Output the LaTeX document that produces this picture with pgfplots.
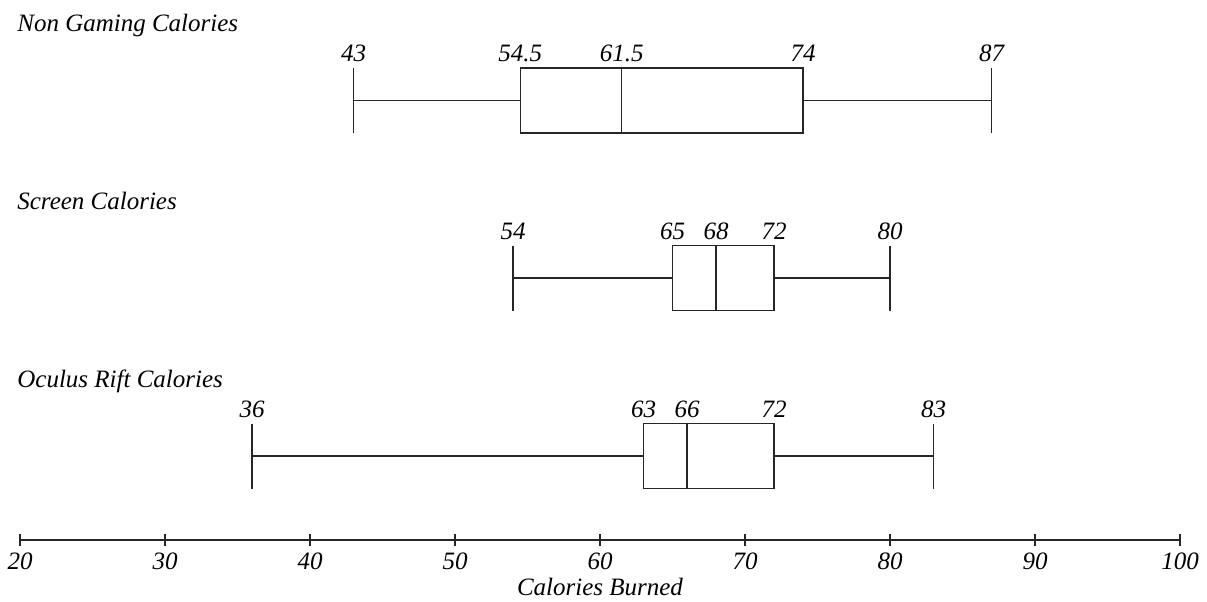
\documentclass[border=0pt]{standalone}
\usepackage{fontspec}
\setmainfont{Liberation Serif}
\usepackage{pgfplots}
\pgfplotsset{compat=1.18}
\usepgfplotslibrary{statistics}
\begin{document}
\fontsize{12.5}{15}\selectfont
\begin{tikzpicture}
\begin{axis}[
  width=580pt, height=270pt, scale only axis,
  xmin=20, xmax=100, ymin=0, ymax=540, y dir=reverse,
  enlargelimits=false, clip=false,
  axis x line=bottom, axis y line=none,
  x axis line style={-, line width=0.6pt, black!85},
  xtick={20,30,...,100},
  tick align=center, major tick length=6pt,
  tick style={line width=0.6pt, black!85},
  xticklabel style={font=\itshape, /pgf/number format/assume math mode=true, yshift=1pt},
  xlabel={\itshape Calories Burned},
  xlabel style={yshift=4.5pt},
  boxplot/draw direction=x,
]
% Non Gaming
\addplot+[boxplot prepared={lower whisker=43, lower quartile=54.5, median=61.5,
  upper quartile=74, upper whisker=87, draw position=100.5, box extend=65, whisker extend=65},
  draw=black!85, solid, line width=0.6pt, mark=none] coordinates {};
% Screen
\addplot+[boxplot prepared={lower whisker=54, lower quartile=65, median=68,
  upper quartile=72, upper whisker=80, draw position=278, box extend=65, whisker extend=65},
  draw=black!85, solid, line width=0.6pt, mark=none] coordinates {};
% Oculus Rift
\addplot+[boxplot prepared={lower whisker=36, lower quartile=63, median=66,
  upper quartile=72, upper whisker=83, draw position=456, box extend=65, whisker extend=65},
  draw=black!85, solid, line width=0.6pt, mark=none] coordinates {};

\node[anchor=base west, inner sep=0pt, font=\itshape] at (axis cs:19.79,31) {Non Gaming Calories};
\node[anchor=base west, inner sep=0pt, font=\itshape] at (axis cs:19.79,209) {Screen Calories};
\node[anchor=base west, inner sep=0pt, font=\itshape] at (axis cs:19.79,387) {Oculus Rift Calories};

\pgfplotsinvokeforeach{43,54.5,61.5,74,87}{
  \node[anchor=base, inner sep=0pt, font=\itshape] at (axis cs:#1,61) {#1};
}
\pgfplotsinvokeforeach{54,65,68,72,80}{
  \node[anchor=base, inner sep=0pt, font=\itshape] at (axis cs:#1,239) {#1};
}
\pgfplotsinvokeforeach{36,63,66,72,83}{
  \node[anchor=base, inner sep=0pt, font=\itshape] at (axis cs:#1,417) {#1};
}
\coordinate (TL) at (axis cs:18.6207,0);
\coordinate (BR) at (axis cs:101.862,601);
\end{axis}
\pgfresetboundingbox
\path[use as bounding box] (TL) rectangle (BR);
\end{tikzpicture}
\end{document}
